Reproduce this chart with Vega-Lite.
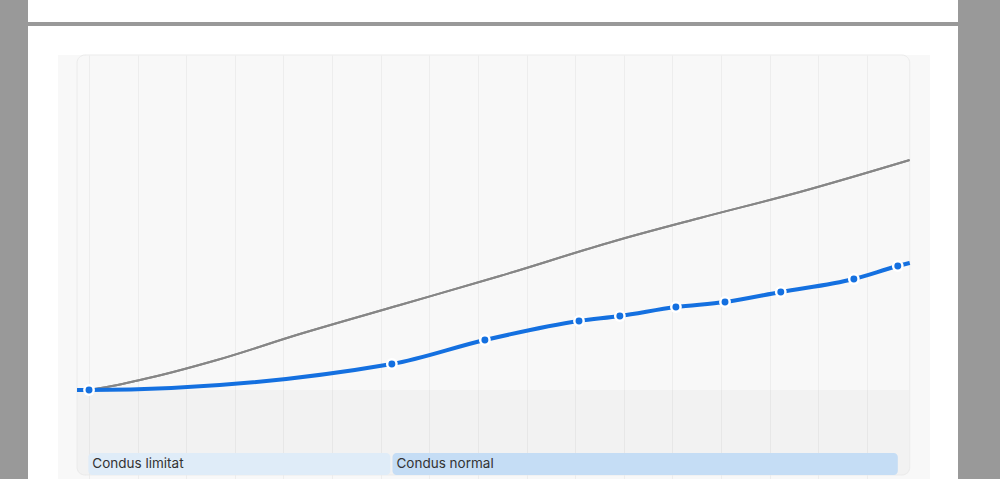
{
  "$schema": "https://vega.github.io/schema/vega-lite/v6.json",
  "background": "#999999",
  "padding": {"left": 28, "right": 42, "top": 0, "bottom": 0},
  "config": {
    "view": {"stroke": null, "fill": "#ffffff"},
    "font": "Inter"
  },
  "datasets": {
    "gol": [{"nimic": 0}],
    "istoric": [
      {"data": "2007-10-03", "km": 0, "punct": false},
      {"data": "2008-01-01", "km": 0, "punct": true},
      {"data": "2014-03-25", "km": 26000, "punct": true},
      {"data": "2016-02-22", "km": 50000, "punct": true},
      {"data": "2018-01-29", "km": 69000, "punct": true},
      {"data": "2018-12-02", "km": 74000, "punct": true},
      {"data": "2020-01-27", "km": 83000, "punct": true},
      {"data": "2021-01-30", "km": 88000, "punct": true},
      {"data": "2022-03-25", "km": 98000, "punct": true},
      {"data": "2023-09-25", "km": 111000, "punct": true},
      {"data": "2024-08-20", "km": 124000, "punct": true},
      {"data": "2024-11-18", "km": 127000, "punct": false}
    ],
    "estimat": [
      {"data": "2007-10-05", "km": 0},
      {"data": "2008-01-01", "km": 500},
      {"data": "2009-01-18", "km": 10000},
      {"data": "2010-08-19", "km": 30000},
      {"data": "2012-05-03", "km": 56000},
      {"data": "2014-05-25", "km": 85000},
      {"data": "2016-06-14", "km": 114000},
      {"data": "2018-10-25", "km": 149000},
      {"data": "2020-07-26", "km": 172000},
      {"data": "2022-08-15", "km": 198000},
      {"data": "2024-11-18", "km": 230000}
    ],
    "utilizare": [
      {"eticheta": "Condus limitat", "inceput": "2007-12-27", "sfarsit": "2014-03-14"},
      {"eticheta": "Condus normal", "inceput": "2014-03-30", "sfarsit": "2024-08-20"}
    ]
  },
  "vconcat": [
    {"width": 930, "height": 22, "view": {"fill": "#ffffff"}, "data": {"name": "gol"}, "mark": {"type": "point", "opacity": 0}},
    {
      "vconcat": [
        {"width": 930, "height": 29, "view": {"fill": "#ffffff"}, "data": {"name": "gol"}, "mark": {"type": "point", "opacity": 0}},
        {
          "hconcat": [
            {"width": 30, "height": 424, "view": {"fill": "#ffffff"}, "data": {"name": "gol"}, "mark": {"type": "point", "opacity": 0}},
            {
              "width": 872,
              "height": 424,
              "view": {"fill": "#f8f8f8"},
              "layer": [
                {
                  "data": {"name": "estimat"},
                  "mark": {"type": "line", "interpolate": "monotone", "color": "#868686", "strokeWidth": 2},
                  "encoding": {
                    "x": {
                      "field": "data", "type": "temporal",
                      "scale": {"domain": [{"year": 2007, "month": 5, "date": 13}, {"year": 2025, "month": 4, "date": 19}]},
                      "axis": {
                        "values": [{"year": 2008}, {"year": 2009}, {"year": 2010}, {"year": 2011}, {"year": 2012}, {"year": 2013}, {"year": 2014}, {"year": 2015}, {"year": 2016}, {"year": 2017}, {"year": 2018}, {"year": 2019}, {"year": 2020}, {"year": 2021}, {"year": 2022}, {"year": 2023}, {"year": 2024}],
                        "labels": false, "ticks": false, "domain": false, "grid": true,
                        "gridColor": "#ededed", "gridWidth": 1, "title": null
                      }
                    },
                    "y": {
                      "field": "km", "type": "quantitative",
                      "scale": {"domain": [-89000, 335000], "nice": false, "zero": false},
                      "axis": null
                    }
                  }
                },
                {
                  "data": {"name": "gol"},
                  "mark": {"type": "rect", "fill": "#000000", "fillOpacity": 0.025, "cornerRadiusBottomLeft": 6, "cornerRadiusBottomRight": 6},
                  "encoding": {
                    "x": {"datum": {"year": 2007, "month": 10, "date": 3}, "type": "temporal"},
                    "x2": {"datum": {"year": 2024, "month": 11, "date": 18}},
                    "y": {"datum": 0, "type": "quantitative"},
                    "y2": {"datum": -85000}
                  }
                },
                {
                  "data": {"name": "gol"},
                  "mark": {"type": "rect", "fill": null, "stroke": "#ebebeb", "strokeWidth": 1, "cornerRadius": 8},
                  "encoding": {
                    "x": {"datum": {"year": 2007, "month": 10, "date": 3}, "type": "temporal"},
                    "x2": {"datum": {"year": 2024, "month": 11, "date": 18}},
                    "y": {"datum": 335000, "type": "quantitative"},
                    "y2": {"datum": -85000}
                  }
                },
                {
                  "data": {"name": "estimat"},
                  "mark": {"type": "line", "interpolate": "monotone", "color": "#868686", "strokeWidth": 2},
                  "encoding": {
                    "x": {"field": "data", "type": "temporal"},
                    "y": {"field": "km", "type": "quantitative"}
                  }
                },
                {
                  "data": {"name": "istoric"},
                  "mark": {"type": "line", "interpolate": "monotone", "color": "#1470e0", "strokeWidth": 4},
                  "encoding": {
                    "x": {"field": "data", "type": "temporal"},
                    "y": {"field": "km", "type": "quantitative"}
                  }
                },
                {
                  "data": {"name": "istoric"},
                  "transform": [{"filter": {"field": "punct", "equal": true}}],
                  "mark": {"type": "circle", "color": "#ffffff", "size": 140, "opacity": 1},
                  "encoding": {
                    "x": {"field": "data", "type": "temporal"},
                    "y": {"field": "km", "type": "quantitative"}
                  }
                },
                {
                  "data": {"name": "istoric"},
                  "transform": [{"filter": {"field": "punct", "equal": true}}],
                  "mark": {"type": "circle", "color": "#1470e0", "size": 48, "opacity": 1},
                  "encoding": {
                    "x": {"field": "data", "type": "temporal"},
                    "y": {"field": "km", "type": "quantitative"}
                  }
                },
                {
                  "data": {"name": "utilizare"},
                  "mark": {"type": "rect", "cornerRadius": 4},
                  "encoding": {
                    "x": {"field": "inceput", "type": "temporal"},
                    "x2": {"field": "sfarsit"},
                    "y": {"datum": -63000, "type": "quantitative"},
                    "y2": {"datum": -85000},
                    "color": {
                      "field": "eticheta", "type": "nominal",
                      "scale": {"domain": ["Condus limitat", "Condus normal"], "range": ["#dfecf8", "#c5ddf5"]},
                      "legend": null
                    }
                  }
                },
                {
                  "data": {"name": "utilizare"},
                  "mark": {"type": "text", "align": "left", "baseline": "middle", "dx": 4, "fontSize": 13.5, "color": "#333333", "font": "Inter"},
                  "encoding": {
                    "x": {"field": "inceput", "type": "temporal"},
                    "y": {"datum": -74000, "type": "quantitative"},
                    "text": {"field": "eticheta"}
                  }
                }
              ]
            },
            {"width": 28, "height": 424, "view": {"fill": "#ffffff"}, "data": {"name": "gol"}, "mark": {"type": "point", "opacity": 0}}
          ],
          "spacing": 0,
          "bounds": "flush"
        }
      ],
      "spacing": 0,
      "bounds": "flush"
    }
  ],
  "spacing": 4,
  "bounds": "flush"
}
